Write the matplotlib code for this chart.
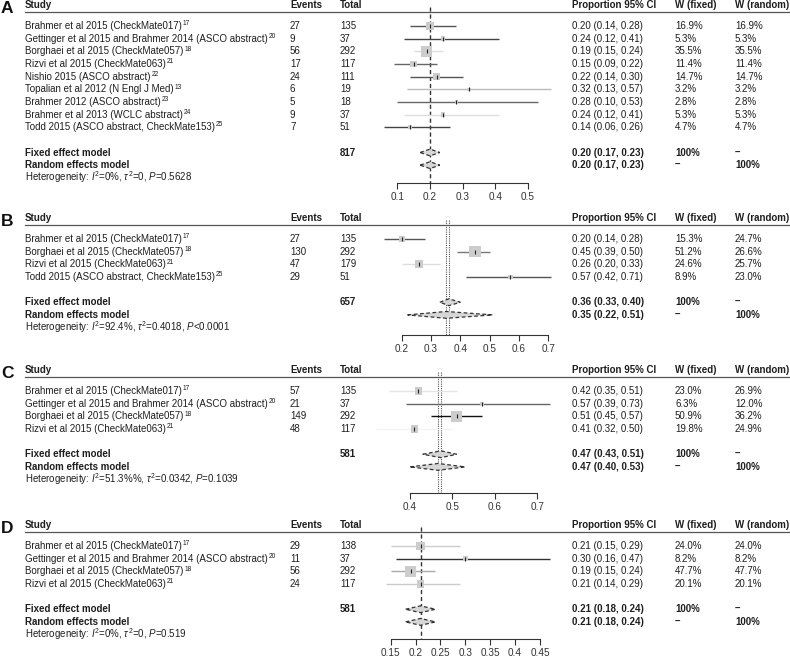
import numpy as np
import matplotlib.pyplot as plt
from matplotlib.patches import Polygon
from matplotlib.lines import Line2D
from matplotlib.transforms import blended_transform_factory

plt.rcParams['font.family'] = ['Liberation Sans', 'DejaVu Sans']
plt.rcParams['mathtext.fontset'] = 'custom'
plt.rcParams['mathtext.rm'] = 'Liberation Sans'
plt.rcParams['mathtext.it'] = 'Liberation Sans:italic'
plt.rcParams['mathtext.bf'] = 'Liberation Sans:bold'

# ---------------- panel A ----------------
studies_a = ["Brahmer et al 2015 (CheckMate017)",
             "Gettinger et al 2015 and Brahmer 2014 (ASCO abstract)",
             "Borghaei et al 2015 (CheckMate057)",
             "Rizvi et al 2015 (CheckMate063)",
             "Nishio 2015 (ASCO abstract)",
             "Topalian et al 2012 (N Engl J Med)",
             "Brahmer 2012 (ASCO abstract)",
             "Brahmer et al 2013 (WCLC abstract)",
             "Todd 2015 (ASCO abstract, CheckMate153)"]
refs_a = ["17", "20", "18", "21", "22", "13", "23", "24", "25"]
events_a = [27, 9, 56, 17, 24, 6, 5, 9, 7]
totals_a = [135, 37, 292, 117, 111, 19, 18, 37, 51]
prop_a = [0.20, 0.24, 0.19, 0.15, 0.22, 0.32, 0.28, 0.24, 0.14]
lo_a = [0.14, 0.12, 0.15, 0.09, 0.14, 0.13, 0.10, 0.12, 0.06]
hi_a = [0.28, 0.41, 0.24, 0.22, 0.30, 0.57, 0.53, 0.41, 0.26]
wfix_a = [16.9, 5.3, 35.5, 11.4, 14.7, 3.2, 2.8, 5.3, 4.7]
wran_a = [16.9, 5.3, 35.5, 11.4, 14.7, 3.2, 2.8, 5.3, 4.7]
n_a = 817
fixed_a = (0.20, 0.17, 0.23)
random_a = (0.20, 0.17, 0.23)
het_a = r"Heterogeneity: $I^2$=0%, $\tau^2$=0, $P$=0.5628"
ticks_a = [0.1, 0.2, 0.3, 0.4, 0.5]

# ---------------- panel B ----------------
studies_b = ["Brahmer et al 2015 (CheckMate017)",
             "Borghaei et al 2015 (CheckMate057)",
             "Rizvi et al 2015 (CheckMate063)",
             "Todd 2015 (ASCO abstract, CheckMate153)"]
refs_b = ["17", "18", "21", "25"]
events_b = [27, 130, 47, 29]
totals_b = [135, 292, 179, 51]
prop_b = [0.20, 0.45, 0.26, 0.57]
lo_b = [0.14, 0.39, 0.20, 0.42]
hi_b = [0.28, 0.50, 0.33, 0.71]
wfix_b = [15.3, 51.2, 24.6, 8.9]
wran_b = [24.7, 26.6, 25.7, 23.0]
n_b = 657
fixed_b = (0.361, 0.33, 0.40)
random_b = (0.352, 0.22, 0.51)
het_b = r"Heterogeneity: $I^2$=92.4%, $\tau^2$=0.4018, $P$<0.0001"
ticks_b = [0.2, 0.3, 0.4, 0.5, 0.6, 0.7]

# ---------------- panel C ----------------
studies_c = ["Brahmer et al 2015 (CheckMate017)",
             "Gettinger et al 2015 and Brahmer 2014 (ASCO abstract)",
             "Borghaei et al 2015 (CheckMate057)",
             "Rizvi et al 2015 (CheckMate063)"]
refs_c = ["17", "20", "18", "21"]
events_c = [57, 21, 149, 48]
totals_c = [135, 37, 292, 117]
prop_c = [0.42, 0.57, 0.51, 0.41]
lo_c = [0.35, 0.39, 0.45, 0.32]
hi_c = [0.51, 0.73, 0.57, 0.50]
wfix_c = [23.0, 6.3, 50.9, 19.8]
wran_c = [26.9, 12.0, 36.2, 24.9]
n_c = 581
fixed_c = (0.473, 0.43, 0.51)
random_c = (0.466, 0.40, 0.53)
het_c = r"Heterogeneity: $I^2$=51.3%%, $\tau^2$=0.0342, $P$=0.1039"
ticks_c = [0.4, 0.5, 0.6, 0.7]

# ---------------- panel D ----------------
studies_d = ["Brahmer et al 2015 (CheckMate017)",
             "Gettinger et al 2015 and Brahmer 2014 (ASCO abstract)",
             "Borghaei et al 2015 (CheckMate057)",
             "Rizvi et al 2015 (CheckMate063)"]
refs_d = ["17", "20", "18", "21"]
events_d = [29, 11, 56, 24]
totals_d = [138, 37, 292, 117]
prop_d = [0.21, 0.30, 0.19, 0.21]
lo_d = [0.15, 0.16, 0.15, 0.14]
hi_d = [0.29, 0.47, 0.24, 0.29]
wfix_d = [24.0, 8.2, 47.7, 20.1]
wran_d = [24.0, 8.2, 47.7, 20.1]
n_d = 581
fixed_d = (0.21, 0.18, 0.24)
random_d = (0.21, 0.18, 0.24)
het_d = r"Heterogeneity: $I^2$=0%, $\tau^2$=0, $P$=0.519"
ticks_d = [0.15, 0.2, 0.25, 0.3, 0.35, 0.4, 0.45]

# line greys of the CI whiskers as they come out in the figure
ci_col_a = ['#555555', '#444444', '#dddddd', '#666666', '#555555', '#bbbbbb', '#666666', '#dddddd', '#444444']
ci_col_b = ['#555555', '#777777', '#dddddd', '#555555']
ci_col_c = ['#e5e5e5', '#666666', '#111111', '#f4f4f4']
ci_col_d = ['#cccccc', '#333333', '#aaaaaa', '#cccccc']

W, H = 790, 660
FS = 7.0
TXT = '#1e1e1e'
DY = 12.65          # pixel height of one row
X_STUDY, X_EV, X_TOT, X_PROP, X_WF, X_WR = 25, 290, 340, 572, 675, 735
L_PX, R_PX = 370, 560

fig = plt.figure(figsize=(7.9, 6.6), dpi=100)


def draw_panel(letter, studies, refs, events, totals, prop, lo, hi, wfix, wran,
               n_tot, fixed, random, het, ticks, ci_cols,
               first_px, axis_px, tick_px, ref_style):
    n = len(studies)
    top_row = -2.0
    bot_row = (axis_px - first_px) / DY
    ytop = first_px + top_row * DY
    ax = fig.add_axes([L_PX / W, 1 - axis_px / H, (R_PX - L_PX) / W, (axis_px - ytop) / H])
    t0, t1 = ticks[0], ticks[-1]
    p0, p1 = tick_px
    sc = (p1 - p0) / (t1 - t0)
    ax.set_xlim(t0 - (p0 - L_PX) / sc, t1 + (R_PX - p1) / sc)
    ax.set_ylim(bot_row, top_row)
    ax.patch.set_visible(False)
    for s in ['top', 'left', 'right']:
        ax.spines[s].set_visible(False)
    ax.spines['bottom'].set_bounds(t0, t1)
    ax.spines['bottom'].set_color('#333333')
    ax.spines['bottom'].set_linewidth(0.8)
    ax.set_yticks([])
    ax.set_xticks(ticks)
    ax.set_xticklabels([f"{t:g}" for t in ticks])
    ax.tick_params(axis='x', direction='out', length=4.5, width=0.8, color='#333333',
                   labelsize=FS + 0.2, labelcolor='#333333', pad=2.0)

    tr = blended_transform_factory(fig.transFigure, ax.transData)
    fx = lambda px: px / W

    # reference lines
    if ref_style == 'dashed':
        ax.vlines(fixed[0], -1.5, bot_row, colors='#333333', linestyles=(0, (3, 2)), lw=1.0)
    else:
        for est in (fixed[0], random[0]):
            ax.vlines(est, -1.5, bot_row, colors='#555555', linestyles=(0, (1, 1)), lw=0.8)

    # study rows
    rows = np.arange(n)
    wmax = max(wfix)
    side_pt = 11.5 * np.sqrt(np.array(wfix) / wmax) * 0.72
    for i in range(n):
        ax.plot([lo[i], hi[i]], [rows[i], rows[i]], color=ci_cols[i], lw=1.0,
                solid_capstyle='butt', clip_on=False, zorder=2)
    ax.scatter(prop, rows, s=side_pt ** 2, marker='s', color='#cccccc',
               linewidths=0, zorder=3, clip_on=False)
    ax.plot(prop, rows, ls='none', marker='|', ms=3, mew=0.8, color='#222222',
            zorder=4, clip_on=False)

    # pooled diamonds
    hh = 0.27
    for yy, (est, l, h) in zip([n + 1, n + 2], [fixed, random]):
        ax.add_patch(Polygon([(l, yy), (est, yy - hh), (h, yy), (est, yy + hh)],
                             closed=True, facecolor='#d6d6d6', edgecolor='#333333',
                             lw=0.9, ls=(0, (3, 2)), zorder=3, clip_on=False))

    # header
    hy = -1.68
    ax.text(fx(1), -1.35, letter, transform=tr, fontsize=12.5, fontweight='bold',
            va='center', ha='left', color='#111111')
    for xp, lab in zip([X_STUDY, X_EV, X_TOT, X_PROP, X_WF, X_WR],
                       ["Study", "Events", "Total", "Proportion 95% CI", "W (fixed)", "W (random)"]):
        ax.text(fx(xp), hy, lab, transform=tr, fontsize=FS, fontweight='bold',
                va='center', ha='left', color=TXT)
    ax.add_line(Line2D([fx(X_STUDY), 1.0], [-1.13, -1.13], transform=tr, color='#555555',
                       lw=0.9, clip_on=False))

    for i in range(n):
        kw = dict(transform=tr, fontsize=FS, va='center', ha='left', color=TXT)
        name = ax.text(fx(X_STUDY), rows[i], studies[i], **kw)
        ax.annotate(refs[i], xy=(1.0, 0.72), xycoords=name, xytext=(1, 0),
                    textcoords='offset pixels', fontsize=4.8, va='center', ha='left',
                    color=TXT)
        ax.text(fx(X_EV), rows[i], str(events[i]), **kw)
        ax.text(fx(X_TOT), rows[i], str(totals[i]), **kw)
        ax.text(fx(X_PROP), rows[i], f"{prop[i]:.2f} ({lo[i]:.2f}, {hi[i]:.2f})", **kw)
        ax.text(fx(X_WF), rows[i], f"{wfix[i]:.1f}%", **kw)
        ax.text(fx(X_WR), rows[i], f"{wran[i]:.1f}%", **kw)

    kb = dict(transform=tr, fontsize=FS, va='center', ha='left', color=TXT, fontweight='bold')
    ax.text(fx(X_STUDY), n + 1, "Fixed effect model", **kb)
    ax.text(fx(X_TOT), n + 1, str(n_tot), **kb)
    ax.text(fx(X_PROP), n + 1, f"{fixed[0]:.2f} ({fixed[1]:.2f}, {fixed[2]:.2f})", **kb)
    ax.text(fx(X_WF), n + 1, "100%", **kb)
    ax.text(fx(X_WR), n + 1, "\u2013", **kb)
    ax.text(fx(X_STUDY), n + 2, "Random effects model", **kb)
    ax.text(fx(X_PROP), n + 2, f"{random[0]:.2f} ({random[1]:.2f}, {random[2]:.2f})", **kb)
    ax.text(fx(X_WF), n + 2, "\u2013", **kb)
    ax.text(fx(X_WR), n + 2, "100%", **kb)
    ax.text(fx(X_STUDY), n + 2.95, het, transform=tr, fontsize=FS, va='center',
            ha='left', color=TXT)


draw_panel("A", studies_a, refs_a, events_a, totals_a, prop_a, lo_a, hi_a, wfix_a, wran_a,
           n_a, fixed_a, random_a, het_a, ticks_a, ci_col_a,
           first_px=26, axis_px=183, tick_px=(397.3, 528), ref_style='dashed')
draw_panel("B", studies_b, refs_b, events_b, totals_b, prop_b, lo_b, hi_b, wfix_b, wran_b,
           n_b, fixed_b, random_b, het_b, ticks_b, ci_col_b,
           first_px=239, axis_px=335, tick_px=(401.7, 548.3), ref_style='dotted')
draw_panel("C", studies_c, refs_c, events_c, totals_c, prop_c, lo_c, hi_c, wfix_c, wran_c,
           n_c, fixed_c, random_c, het_c, ticks_c, ci_col_c,
           first_px=391, axis_px=493, tick_px=(410, 537.3), ref_style='dotted')
draw_panel("D", studies_d, refs_d, events_d, totals_d, prop_d, lo_d, hi_d, wfix_d, wran_d,
           n_d, fixed_d, random_d, het_d, ticks_d, ci_col_d,
           first_px=546, axis_px=639, tick_px=(390.7, 540), ref_style='dashed')

fig.savefig("out.png", dpi=100)
